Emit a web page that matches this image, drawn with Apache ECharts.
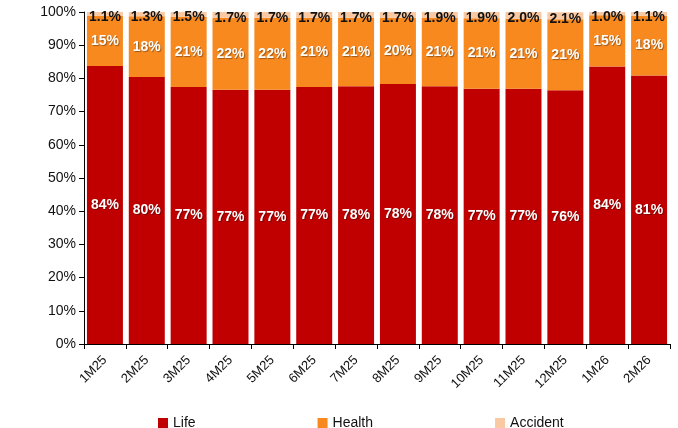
<!DOCTYPE html>
<html>
<head>
<meta charset="utf-8">
<script src="https://cdn.jsdelivr.net/npm/echarts@6/dist/echarts.min.js"></script>
<style>
  html, body { margin: 0; padding: 0; background: #fff; }
  #chart { width: 678px; height: 428px; }
</style>
</head>
<body>
<div id="chart"></div>
<script>
const categories = ['1M25', '2M25', '3M25', '4M25', '5M25', '6M25', '7M25', '8M25', '9M25', '10M25', '11M25', '12M25', '1M26', '2M26']
const life = [83.7, 80.4, 77.4, 76.6, 76.6, 77.4, 77.6, 78.3, 77.6, 76.9, 76.9, 76.4, 83.6, 80.9]
const health = [15.2, 18.3, 21.1, 21.7, 21.7, 20.9, 20.7, 20.0, 20.6, 21.2, 21.1, 21.4, 15.4, 18.0]
const accident = [1.1, 1.3, 1.5, 1.7, 1.7, 1.7, 1.7, 1.7, 1.9, 1.9, 2.0, 2.1, 1.0, 1.1]
const yTicks = [0, 10, 20, 30, 40, 50, 60, 70, 80, 90, 100]

const font = '"Liberation Sans", Arial, sans-serif'

const whiteLabel = {
  show: true,
  position: 'inside',
  color: '#fff',
  fontFamily: font,
  fontSize: 14,
  fontWeight: 'bold',
  textShadowColor: 'rgba(0,0,0,0.35)',
  textShadowBlur: 1,
  textShadowOffsetX: 1,
  textShadowOffsetY: 1,
  formatter: (p) => Math.round(p.value) + '%',
}

const chart = echarts.init(document.getElementById('chart'), null, { renderer: 'canvas' })

chart.setOption({
  animation: false,
  textStyle: { fontFamily: font },
  grid: { left: 84, right: 8, top: 12, bottom: 84 },
  legend: {
    top: 411,
    left: 153,
    itemGap: 122,
    itemWidth: 10,
    itemHeight: 10,
    icon: 'rect',
    textStyle: { color: '#111', fontSize: 14, fontFamily: font },
    data: ['Life', 'Health', 'Accident'],
  },
  xAxis: {
    type: 'category',
    data: categories,
    axisLine: { lineStyle: { color: '#000', width: 1 } },
    axisTick: { show: true, length: 5, lineStyle: { color: '#000' } },
    axisLabel: { rotate: 45, color: '#111', fontSize: 13, fontFamily: font, margin: 14 },
  },
  yAxis: {
    type: 'value',
    min: yTicks[0],
    max: yTicks[yTicks.length - 1],
    interval: 10,
    axisLine: { show: true, lineStyle: { color: '#000', width: 1 } },
    axisTick: { show: true, length: 5, lineStyle: { color: '#000' } },
    splitLine: { show: false },
    axisLabel: { color: '#111', fontSize: 14, fontFamily: font, margin: 8, formatter: '{value}%' },
  },
  series: [
    {
      name: 'Life',
      type: 'bar',
      stack: 'mix',
      data: life,
      barCategoryGap: '14%',
      itemStyle: { color: '#C00000' },
      label: whiteLabel,
    },
    {
      name: 'Health',
      type: 'bar',
      stack: 'mix',
      data: health,
      itemStyle: { color: '#F7891F' },
      label: whiteLabel,
    },
    {
      name: 'Accident',
      type: 'bar',
      stack: 'mix',
      data: accident,
      itemStyle: { color: '#F9C9A3' },
      label: {
        show: true,
        position: 'inside',
        offset: [0, 3],
        color: '#111',
        fontFamily: font,
        fontSize: 14,
        fontWeight: 'bold',
        formatter: (p) => p.value.toFixed(1) + '%',
      },
    },
  ],
})
</script>
</body>
</html>
